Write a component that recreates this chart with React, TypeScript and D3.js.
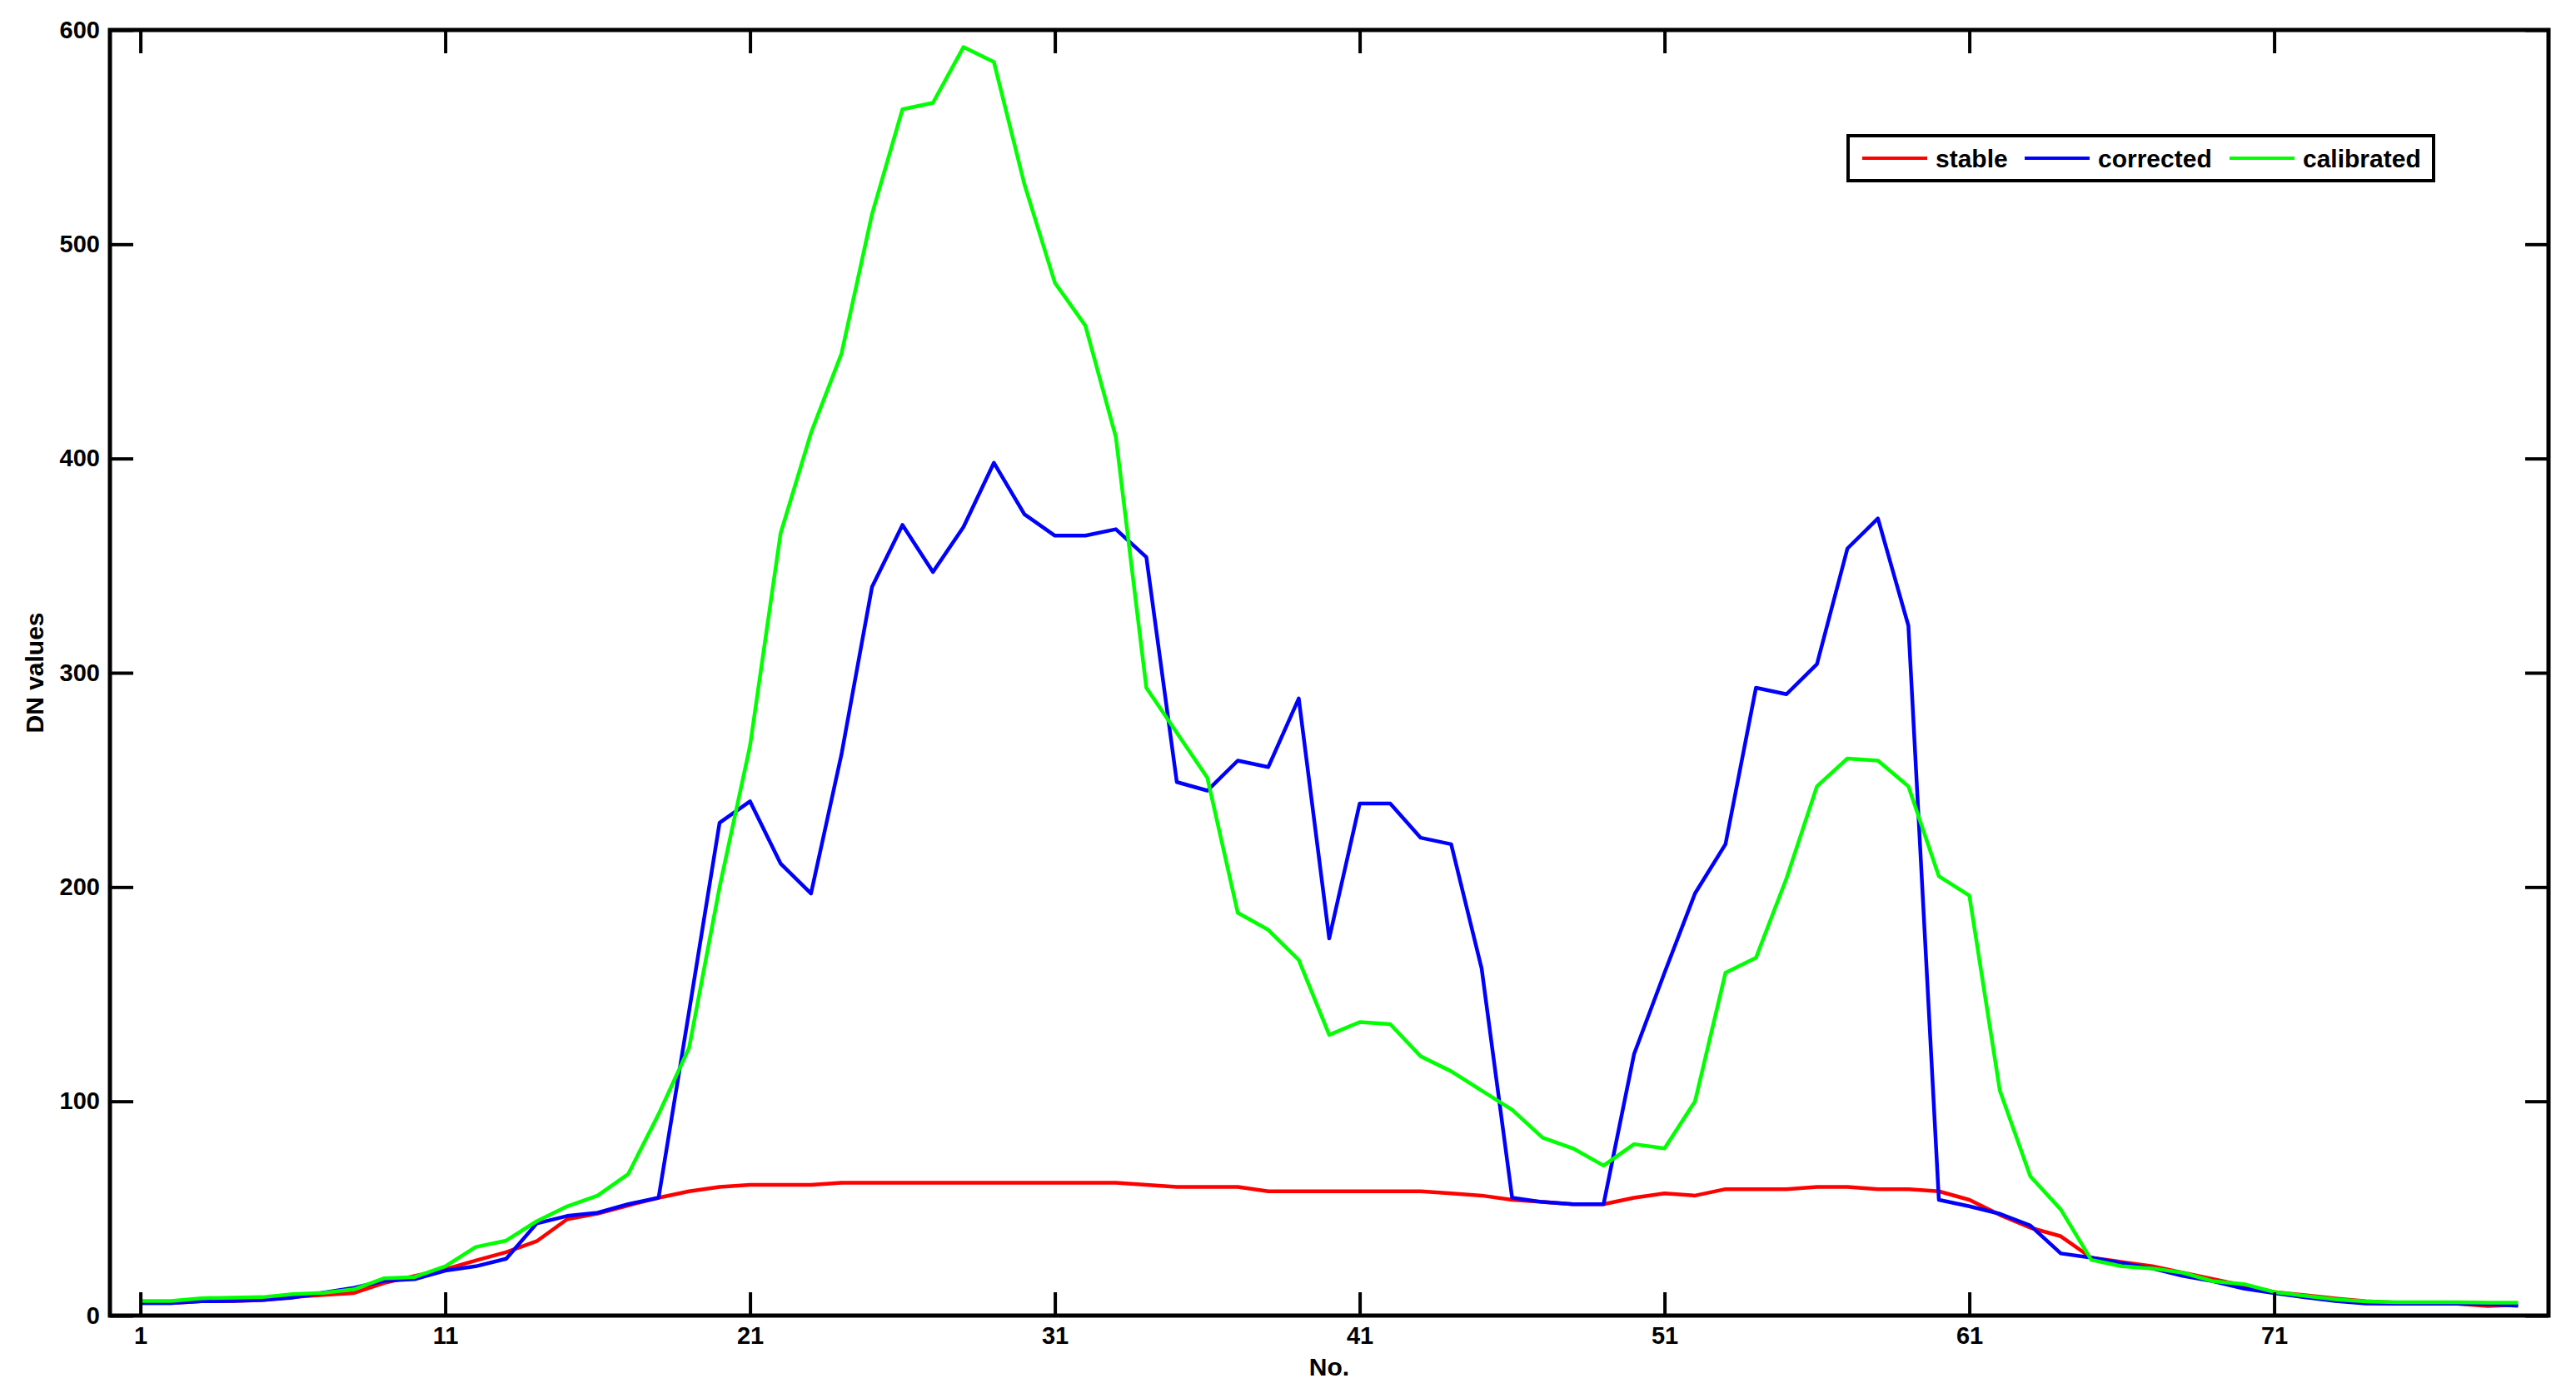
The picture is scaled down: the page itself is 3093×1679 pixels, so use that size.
import React, {useEffect, useRef} from 'react';
import * as d3 from 'd3';

// sample numbers along x (1..79)
const sampleNo = d3.range(1, 80);

const stable = [
    5.8, 5.8, 6.7, 6.8, 7.2, 8.6, 9.6, 10.5, 15.2, 18.5,
    21.6, 25.7, 29.6, 34.7, 45, 47.6, 51.4, 55, 58, 60,
    61, 61, 61, 62, 62, 62, 62, 62, 62, 62,
    62, 62, 62, 61, 60, 60, 60, 58, 58, 58,
    58, 58, 58, 57, 56, 54, 53, 52, 52, 55,
    57, 56, 59, 59, 59, 60, 60, 59, 59, 58,
    54, 47, 41, 37, 27, 25, 23, 20, 17, 14,
    11, 9.5, 8, 6.7, 6, 6, 5.5, 4.5, 5,
];

const corrected = [
    5.8, 5.8, 6.7, 6.8, 7.3, 8.4, 10.7, 12.9, 16.2, 17,
    21, 23, 26.5, 43, 46.5, 48, 52, 55, 142, 230,
    240, 211, 197, 262, 340, 369, 347, 368, 398, 374,
    364, 364, 367, 354, 249, 245, 259, 256, 288, 176,
    239, 239, 223, 220, 162, 55, 53, 52, 52, 122,
    160, 197, 220, 293, 290, 304, 358, 372, 322, 54,
    51, 47.5, 42, 29, 27, 24.5, 22, 18.5, 16, 12.6,
    10.5, 8.5, 6.8, 5.6, 5.5, 5.5, 5.5, 5.3, 4.6,
];

const calibrated = [
    6.8, 6.8, 8.1, 8.4, 8.6, 10, 10.6, 12.2, 17.4, 18,
    23, 32, 35, 44, 51, 56, 66, 94, 125, 200,
    266, 365, 412, 449, 514, 563, 566, 592, 585, 528,
    482, 462, 410, 293, 272, 251, 188, 180, 166, 131,
    137, 136, 121, 114, 105, 96, 83, 78, 70, 80,
    78, 100, 160, 167, 204, 247, 260, 259, 247, 205,
    196, 105, 65, 49.5, 26, 23, 22, 20, 16, 14.7,
    11, 9.2, 7.6, 6.6, 6.2, 6.2, 6.2, 6, 6,
];

const seriesNames = ['stable', 'corrected', 'calibrated'];
const seriesColors = ['#ff0000', '#0000ff', '#00ff00'];
const xTicks = [1, 11, 21, 31, 41, 51, 61, 71];
const yTicks = [0, 100, 200, 300, 400, 500, 600];

const Chart = () => {
    const svgRef = useRef(null);

    useEffect(() => {
        const svg = d3.select(svgRef.current);
        svg.selectAll('*').remove();

        // Dimensions
        const width = 3093;
        const height = 1679;
        const margin = {top: 36, right: 33, bottom: 99, left: 132};
        const plotW = width - margin.left - margin.right;
        const plotH = height - margin.top - margin.bottom;
        const font = 'Liberation Sans, Arial, sans-serif';

        const xScale = d3.scaleLinear().domain([0, 80]).range([0, plotW]);
        const yScale = d3.scaleLinear().domain([0, 600]).range([plotH, 0]);

        const g = svg.append('g').attr('transform', `translate(${margin.left},${margin.top})`);

        // Lines (red, blue, green on top)
        const allSeries = [stable, corrected, calibrated];
        const lineGen = d3
            .line()
            .x((d, i) => xScale(sampleNo[i]))
            .y((d) => yScale(d));

        allSeries.forEach((s, k) => {
            g.append('path')
                .datum(s)
                .attr('d', lineGen)
                .attr('fill', 'none')
                .attr('stroke', seriesColors[k])
                .attr('stroke-width', 4.5)
                .attr('stroke-linejoin', 'round');
        });

        // Axes, ticks pointing inward on all four sides
        const styleAxis = (sel, showText) => {
            sel.select('.domain').remove();
            sel.selectAll('line').attr('stroke', '#000').attr('stroke-width', 4);
            sel.selectAll('text')
                .attr('font-family', font)
                .attr('font-weight', 'bold')
                .attr('font-size', 29)
                .attr('fill', '#000');
            if (!showText) sel.selectAll('text').remove();
        };

        g.append('g')
            .attr('transform', `translate(0,${plotH})`)
            .call(d3.axisBottom(xScale).tickValues(xTicks).tickSize(-28).tickPadding(13))
            .call((sel) => styleAxis(sel, true));

        g.append('g')
            .call(d3.axisTop(xScale).tickValues(xTicks).tickSize(-28))
            .call((sel) => styleAxis(sel, false));

        g.append('g')
            .call(d3.axisLeft(yScale).tickValues(yTicks).tickSize(-28).tickPadding(12))
            .call((sel) => styleAxis(sel, true));

        g.append('g')
            .attr('transform', `translate(${plotW},0)`)
            .call(d3.axisRight(yScale).tickValues(yTicks).tickSize(-28))
            .call((sel) => styleAxis(sel, false));

        // Frame
        g.append('rect')
            .attr('width', plotW)
            .attr('height', plotH)
            .attr('fill', 'none')
            .attr('stroke', '#000')
            .attr('stroke-width', 5);

        // Axis titles
        svg.append('text')
            .attr('x', margin.left + xScale(40))
            .attr('y', 1652)
            .attr('text-anchor', 'middle')
            .attr('font-family', font)
            .attr('font-weight', 'bold')
            .attr('font-size', 30)
            .text('No.');

        svg.append('text')
            .attr('transform', `translate(52,${margin.top + plotH / 2}) rotate(-90)`)
            .attr('text-anchor', 'middle')
            .attr('font-family', font)
            .attr('font-weight', 'bold')
            .attr('font-size', 30)
            .text('DN values');

        // Legend
        const legend = svg.append('g').attr('transform', 'translate(2219,163)');
        legend.append('rect')
            .attr('width', 703)
            .attr('height', 54)
            .attr('fill', '#fff')
            .attr('stroke', '#000')
            .attr('stroke-width', 4);

        const itemX = [17, 212, 458];
        seriesNames.forEach((name, k) => {
            const item = legend.append('g').attr('transform', `translate(${itemX[k]},27)`);
            item.append('line')
                .attr('x1', 0)
                .attr('x2', 78)
                .attr('stroke', seriesColors[k])
                .attr('stroke-width', 4);
            item.append('text')
                .attr('x', 88)
                .attr('dy', '0.35em')
                .attr('font-family', font)
                .attr('font-weight', 'bold')
                .attr('font-size', 30)
                .text(name);
        });
    }, []);

    return <svg ref={svgRef} width={3093} height={1679} style={{position: 'absolute', left: 0, top: 0, background: '#fff'}} />;
};

export default function App() {
    return <Chart />;
}
